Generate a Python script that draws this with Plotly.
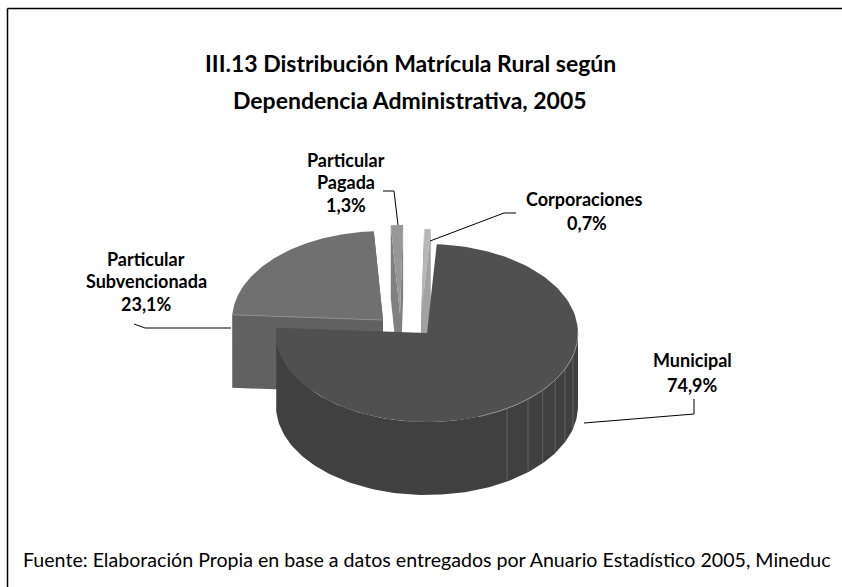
import numpy as np
import plotly.graph_objects as go

# --- data ---
categories = ["Municipal", "Particular Subvencionada", "Particular Pagada", "Corporaciones"]
shares = [74.9, 23.1, 1.3, 0.7]
title_lines = ["III.13 Distribución Matrícula Rural según", "Dependencia Administrativa, 2005"]
source_note = "Fuente: Elaboración Propia en base a datos entregados por Anuario Estadístico 2005, Mineduc"

# --- pie geometry (page pixels) ---
CX, CY, RX, RY, DEPTH = 427, 333, 151, 89, 73
START = 3.7
PULL = [(0, 0), (-44, -13), (-27, -19), (-6, -15)]
TOP = ["#505050", "#707070", "#979797", "#b6b6b6"]
WALL = ["#404040", "#616161", "#808080", "#a2a2a2"]
FONT = "Lato"

fig = go.Figure()


def poly(xs, ys, color):
    fig.add_trace(go.Scatter(x=xs, y=ys, mode="lines", fill="toself", fillcolor=color,
                             line=dict(width=0, color=color), hoverinfo="skip", showlegend=False))


def line(xs, ys, color="#000000", width=1):
    fig.add_trace(go.Scatter(x=xs, y=ys, mode="lines", line=dict(color=color, width=width),
                             hoverinfo="skip", showlegend=False))


def rim(cx, cy, a0, a1, n=120):
    t = np.radians(np.linspace(a0, a1, n))
    return cx + RX * np.sin(t), cy - RY * np.cos(t)


def draw_slice(i, a0, a1):
    cx, cy = CX + PULL[i][0], CY + PULL[i][1]
    # outer wall: the part of the rim facing the viewer
    if i == 0:
        x, y = rim(cx, cy, max(a0, 90), a1)
        poly(np.r_[x, x[::-1]], np.r_[y, y[::-1] + DEPTH], WALL[i])
    elif i == 1:
        x0, y0 = rim(cx, cy, 270, a0 + 0.01, 20)
        poly(np.r_[x0, x0[::-1]], np.r_[y0, y0[::-1] + DEPTH], WALL[i])
    # radial cut faces
    if i != 0:
        for a in (a0, a1):
            x, y = rim(cx, cy, a, a, 1)
            poly([cx, x[0], x[0], cx], [cy, y[0], y[0] + DEPTH, cy + DEPTH], WALL[i])
    # top face
    x, y = rim(cx, cy, a0, a1)
    poly(np.r_[cx, x], np.r_[cy, y], TOP[i])


ang = START + np.cumsum([0] + shares) * 3.6
spans = {i: (ang[i], ang[i + 1]) for i in range(4)}

# painter's order: back slices first
draw_slice(1, *spans[1])
cx1, cy1 = CX + PULL[1][0], CY + PULL[1][1]
x1, y1 = rim(cx1, cy1, spans[1][0], spans[1][0], 1)
line([x1[0], cx1], [y1[0], cy1], "#8c8c8c", 1)
draw_slice(2, *spans[2])
draw_slice(3, *spans[3])
draw_slice(0, *spans[0])

# facet lines on Municipal's wall and its rim highlight
for a in (148, 138, 130, 122, 114, 105):
    x, y = rim(CX, CY, a, a, 1)
    line([x[0], x[0]], [y[0], y[0] + DEPTH - 1], "#6c6c6c", 0.8)
x, y = rim(CX, CY, 90, 160)
line(x, y, "#9a9a9a", 0.8)

# leader lines
line([134, 145, 231], [324, 328, 328])
line([383, 394, 398], [191, 191, 225])
line([516, 504, 430], [213, 213, 241])
line([694, 694, 584], [399, 414, 423])

# frame
line([7.5, 7.5], [587, 8.5], "#000000", 1.5)
line([7.5, 842], [8.5, 8.5], "#000000", 1.5)


def pct(v):
    return f"{v:.1f}%".replace(".", ",")


def text(s, x, y, size=18, bold=True, anchor="center"):
    fig.add_annotation(x=x, y=y, text=f"<b>{s}</b>" if bold else s, showarrow=False, xanchor=anchor,
                       yanchor="middle", font=dict(family=FONT, size=size, color="#000000"))


text(title_lines[0], 410, 63, 23)
text(title_lines[1], 410, 100, 23)
text(categories[2].split()[0], 346, 160)
text(categories[2].split()[1], 346, 182)
text(pct(shares[2]), 346, 205)
text(categories[3], 584, 199)
text(pct(shares[3]), 587, 223)
text(categories[1].split()[0], 146, 259)
text(categories[1].split()[1], 146, 281)
text(pct(shares[1]), 146, 304)
text(categories[0], 692, 360)
text(pct(shares[0]), 692, 385)
text(source_note, 21, 559, 19.6, bold=False, anchor="left")

fig.update_layout(
    width=842, height=587, margin=dict(l=0, r=0, t=0, b=0, autoexpand=False),
    paper_bgcolor="#ffffff", plot_bgcolor="#ffffff", showlegend=False,
    xaxis=dict(range=[0, 842], visible=False, fixedrange=True),
    yaxis=dict(range=[587, 0], visible=False, fixedrange=True),
)
fig.write_html("out.html", config={"displayModeBar": False},
               post_script="document.body.style.margin='0';document.documentElement.style.overflow='hidden';")
